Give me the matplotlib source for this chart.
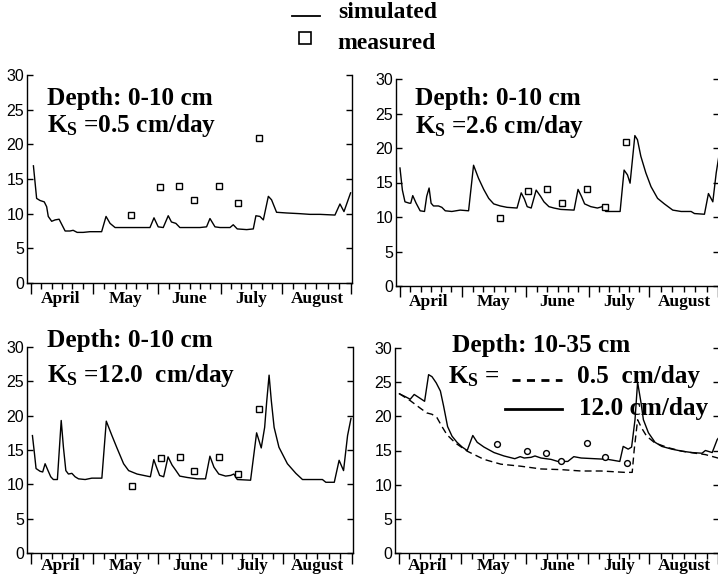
import numpy as np
import matplotlib
matplotlib.use("Agg")
import matplotlib.pyplot as plt
from matplotlib.lines import Line2D
import matplotlib.transforms as mtransforms

plt.rcParams['mathtext.fontset'] = 'custom'
plt.rcParams['mathtext.rm'] = 'Liberation Serif:bold'
plt.rcParams['mathtext.bf'] = 'Liberation Serif:bold'
plt.rcParams['mathtext.it'] = 'Liberation Serif:bold'

# ---------------- data (x = day index on the shared time axis) ----------------
month_names = ["April", "May", "June", "July", "August"]
month_edges = [88, 119, 151.3, 182.7, 213.1, 247.5]

meas_day = [138, 152.4, 161.8, 169.1, 181.6, 191, 201.5]
meas_val = [9.8, 13.8, 14.0, 12.0, 14.0, 11.5, 20.9]

tl_day = [89.2, 90.8, 92.5, 94.6, 95.8, 96.6, 98.3, 100, 102, 105, 107.4, 109, 111, 114,
          117.4, 120.7, 123.2, 125.4, 127.4, 129.9, 134, 142.3, 147.3, 149.3, 151.4, 153.9,
          156.4, 158, 160.2, 162.2, 167.2, 172.2, 175.5, 177.2, 179.7, 182.2, 187.2, 188.8,
          190.8, 195.5, 198.8, 200.1, 202.1, 203.8, 206.3, 207.9, 210.4, 215.4, 222, 227,
          232, 239.5, 242, 244, 247.3]
tl_val = [16.9, 12.2, 11.9, 11.7, 11.0, 9.6, 8.9, 9.1, 9.2, 7.5, 7.5, 7.6, 7.3, 7.3,
          7.4, 7.4, 7.4, 9.6, 8.6, 8.0, 8.0, 8.0, 8.0, 9.4, 8.1, 8.0,
          9.7, 8.8, 8.6, 8.0, 8.0, 8.0, 8.1, 9.3, 8.1, 8.0, 8.0, 8.4,
          7.8, 7.7, 7.8, 9.7, 9.6, 9.1, 12.5, 12.0, 10.2, 10.1, 10.0, 9.9,
          9.9, 9.8, 11.4, 10.3, 13.0]

tr_day = [88, 89.2, 90.5, 92.7, 93.4, 94.4, 96.1, 98.1, 100.3, 101.4, 102.6, 103.6, 104.8,
          107.3, 109, 110.7, 114, 118.2, 122.4, 124.9, 127.4, 130, 132.5, 135, 138.3, 141.7,
          146.7, 148.8, 150.4, 151.8, 153.8, 156.3, 158.5, 160.2, 162.7, 165.2, 168.6, 175.3,
          177.3, 179, 180.6, 183.7, 187, 189.5, 191.2, 195.4, 198.4, 200.4, 202.1, 203.4,
          205.8, 207.1, 208.8, 211.3, 213.9, 217.2, 220.6, 224.8, 229, 234, 235.7, 240.7,
          242.7, 244.9, 246.6, 248.2]
tr_val = [17.1, 13.9, 12.2, 12.0, 12.0, 13.1, 12.0, 10.9, 10.8, 13.0, 14.2, 12.0, 11.6,
          11.6, 11.4, 10.9, 10.8, 11.0, 10.9, 17.5, 15.6, 14.0, 12.7, 11.9, 11.6, 11.4,
          11.3, 13.5, 12.6, 11.5, 11.3, 13.9, 13.0, 12.2, 11.5, 11.3, 11.1, 11.0,
          14.0, 13.0, 11.9, 11.5, 11.3, 11.5, 10.8, 10.8, 10.8, 16.8, 16.1, 14.9,
          21.8, 21.2, 18.8, 16.4, 14.4, 12.7, 11.9, 11.0, 10.8, 10.8, 10.5, 10.4,
          13.4, 12.2, 16.4, 19.3]

bl_day = [88.7, 89.7, 90.5, 92.5, 93.8, 95, 96.3, 97.8, 99.1, 101.1, 103, 104.1, 105.3,
          106.6, 108.3, 109.9, 111.6, 114.9, 118.2, 123.2, 125.4, 128.2, 130.7, 134, 136.5,
          140.7, 145.6, 147.3, 149, 150.6, 151.9, 153.9, 156.1, 158.1, 159.8, 161.9, 165.6,
          170.6, 174.7, 176.9, 178.9, 181.3, 184.7, 187.2, 188.8, 190.5, 197.1, 200.1,
          202.4, 204.1, 205.1, 206.3, 207.4, 208.8, 211.2, 215.4, 219.6, 222.9, 228.7,
          232.8, 234.5, 238.7, 241.1, 243.3, 245.3, 247]
bl_val = [17.1, 14.5, 12.3, 11.9, 11.8, 13.0, 12.1, 11.1, 10.7, 10.7, 19.3, 15.4, 12.0,
          11.5, 11.6, 11.1, 10.8, 10.7, 10.9, 10.9, 19.2, 17.1, 15.3, 13.0, 12.0,
          11.5, 11.2, 11.1, 13.6, 12.3, 11.3, 11.1, 14.0, 12.8, 12.1, 11.2, 11.0,
          10.8, 10.8, 14.1, 12.5, 11.5, 11.2, 11.3, 11.5, 10.7, 10.6, 17.5,
          15.3, 18.3, 22.0, 25.9, 22.2, 18.3, 15.4, 13.0, 11.6, 10.7, 10.7,
          10.7, 10.3, 10.3, 13.5, 12.0, 17.1, 19.6]

br_meas_day = [137.2, 151.9, 161.5, 169, 182, 191.2, 201.8]
br_meas_val = [16.0, 14.9, 14.7, 13.5, 16.1, 14.0, 13.1]

br12_day = [88.2, 91, 93.6, 95.6, 97.7, 100.8, 102.8, 104.5, 106.6, 108.7, 110.3, 112.3,
            114.5, 117, 119.6, 122.1, 124.9, 127.1, 130.5, 135.5, 140.5, 145.9, 148.6,
            150.6, 154, 156, 159, 164, 167.4, 172.4, 175.4, 179.1, 185.8, 192.5, 198.4,
            200.1, 202.6, 204.3, 206, 207.3, 209, 210.2, 212.7, 216, 219.4, 224.4, 229.5,
            234.5, 239.5, 241.2, 244.6, 247.1, 248.2]
br12_val = [23.3, 22.9, 22.5, 23.2, 22.8, 22.2, 26.1, 25.8, 24.9, 23.7, 21.5, 18.5,
            17.1, 16.2, 15.5, 15.0, 17.2, 16.2, 15.5, 14.7, 14.2, 13.8, 14.1,
            13.9, 14.0, 14.2, 13.9, 13.7, 13.4, 13.4, 14.1, 13.9, 13.8, 13.7, 13.4,
            15.6, 15.2, 15.5, 19.5, 25.0, 22.0, 19.5, 17.6, 16.2, 15.6, 15.2, 14.9,
            14.7, 14.6, 15.0, 14.7, 16.6, 17.0]

br05_day = [88.2, 93.6, 98.6, 101.9, 104.5, 107, 109.5, 112, 116.2, 122.1, 130.5, 138.9,
            148.9, 159, 169.1, 179.1, 189.1, 200.9, 204.6, 205.6, 207.3, 209.3, 211.8, 216,
            222.7, 229.5, 236.2, 241.2, 248.7]
br05_val = [23.3, 22.3, 21.2, 20.5, 20.3, 19.8, 18.5, 17.3, 16.1, 14.9, 13.7, 13.0,
            12.7, 12.3, 12.2, 12.0, 12.0, 11.8, 11.8, 15.1, 19.5, 18.3, 17.1, 16.1,
            15.4, 14.9, 14.6, 14.4, 13.8]

# ---------------- figure ----------------
W, H = 718, 578
fig = plt.figure(figsize=(W / 100, H / 100), dpi=100)

def rect(l, r, t, b):
    return [l / W, 1 - b / H, (r - l) / W, (b - t) / H]

ax_tl = fig.add_axes(rect(27, 352, 75, 283))
ax_tr = fig.add_axes(rect(396, 719, 79, 286))
ax_bl = fig.add_axes(rect(27, 353, 347, 553))
ax_br = fig.add_axes(rect(395, 719, 348, 553))

SERIF = 'Liberation Serif'
SANS = 'Liberation Sans'
XMIN, XMAX = 86, 248

def style(ax, label_y):
    ax.set_xlim(XMIN, XMAX)
    ax.set_ylim(0, 30)
    ax.spines['top'].set_visible(False)
    for s in ['left', 'right', 'bottom']:
        ax.spines[s].set_linewidth(1.0)
    ax.set_yticks([0, 5, 10, 15, 20, 25, 30])
    ax.set_yticklabels(['0', '5', '10', '15', '20', '25', '30'], fontfamily=SANS, fontsize=11.5)
    ax.tick_params(axis='y', direction='in', length=4, width=1, left=True, right=True, pad=2)
    ax.set_xticks(month_edges)
    minors = []
    for a, b in zip(month_edges[:-1], month_edges[1:]):
        minors.extend(list(np.linspace(a, b, 7)[1:-1]))
    ax.set_xticks(minors, minor=True)
    ax.tick_params(axis='x', which='major', direction='out', length=8, width=1, labelbottom=False)
    ax.tick_params(axis='x', which='minor', direction='out', length=4, width=1, labelbottom=False)
    trans = mtransforms.blended_transform_factory(ax.transData, ax.transAxes)
    edges = [XMIN] + month_edges[1:-1] + [XMAX]
    for name, a, b in zip(month_names, edges[:-1], edges[1:]):
        ax.text((a + b) / 2, label_y, name, transform=trans, ha='center', va='top',
                fontfamily=SERIF, fontweight='bold', fontsize=12.5)

for ax in (ax_tl, ax_tr):
    style(ax, -0.04)
for ax in (ax_bl, ax_br):
    style(ax, -0.025)

lw = 1.0
ax_tl.plot(tl_day, tl_val, color='black', lw=lw)
ax_tr.plot(tr_day, tr_val, color='black', lw=lw)
ax_bl.plot(bl_day, bl_val, color='black', lw=lw)
for ax in (ax_tl, ax_tr, ax_bl):
    ax.plot(meas_day, meas_val, linestyle='none', marker='s', markersize=4.2,
            markerfacecolor='white', markeredgecolor='black', markeredgewidth=1.0)

ax_br.plot(br05_day, br05_val, color='black', lw=lw, linestyle=(0, (5, 3)))
ax_br.plot(br12_day, br12_val, color='black', lw=lw)
ax_br.plot(br_meas_day, br_meas_val, linestyle='none', marker='o', markersize=4.2,
           markerfacecolor='white', markeredgecolor='black', markeredgewidth=1.0)

FS = 18.2
tkw = dict(fontfamily=SERIF, fontweight='bold', fontsize=FS, ha='left', va='baseline')
ax_tl.text(0.062, 0.856, 'Depth: 0-10 cm', transform=ax_tl.transAxes, **tkw)
ax_tl.text(0.062, 0.726, r'$\mathrm{K_S}$ =0.5 cm/day', transform=ax_tl.transAxes, **tkw)
ax_tr.text(0.059, 0.874, 'Depth: 0-10 cm', transform=ax_tr.transAxes, **tkw)
ax_tr.text(0.059, 0.738, r'$\mathrm{K_S}$ =2.6 cm/day', transform=ax_tr.transAxes, **tkw)
ax_bl.text(0.062, 1.0, 'Depth: 0-10 cm', transform=ax_bl.transAxes, clip_on=False, **tkw)
ax_bl.text(0.062, 0.832, r'$\mathrm{K_S}$ =12.0  cm/day', transform=ax_bl.transAxes, **tkw)
ax_br.text(0.175, 0.982, 'Depth: 10-35 cm', transform=ax_br.transAxes, clip_on=False, **tkw)
ax_br.text(0.164, 0.828, r'$\mathrm{K_S}$ =', transform=ax_br.transAxes, **tkw)
ax_br.add_line(Line2D([0.361, 0.516], [0.844, 0.844], transform=ax_br.transAxes,
                      color='black', lw=2.0, linestyle=(0, (2.9, 2.3))))
ax_br.text(0.5625, 0.828, '0.5  cm/day', transform=ax_br.transAxes, **tkw)
ax_br.add_line(Line2D([0.341, 0.516], [0.701, 0.701], transform=ax_br.transAxes,
                      color='black', lw=2.0))
ax_br.text(0.567, 0.673, '12.0 cm/day', transform=ax_br.transAxes, **tkw)

# top legend
fig.add_artist(Line2D([291.7 / W, 320 / W], [1 - 15.7 / H, 1 - 15.7 / H],
                      transform=fig.transFigure, color='black', lw=1.3))
fig.add_artist(Line2D([305 / W], [1 - 38 / H], transform=fig.transFigure, linestyle='none',
                      marker='s', markersize=8, markerfacecolor='white',
                      markeredgecolor='black', markeredgewidth=1.2))
fig.text(338 / W, 1 - 18.3 / H, 'simulated', fontfamily=SERIF, fontweight='bold',
         fontsize=17, ha='left', va='baseline')
fig.text(337 / W, 1 - 49 / H, 'measured', fontfamily=SERIF, fontweight='bold',
         fontsize=17, ha='left', va='baseline')

fig.savefig('out.png', dpi=100)
